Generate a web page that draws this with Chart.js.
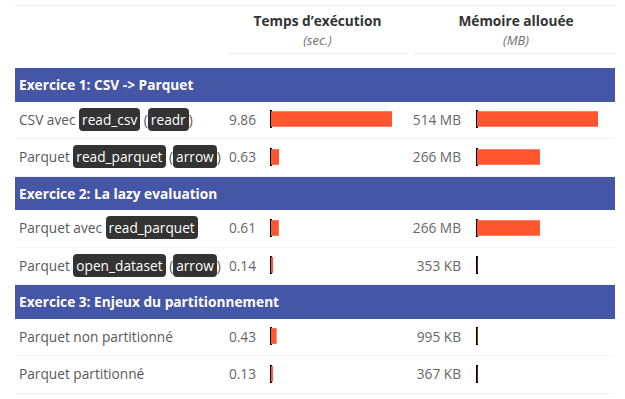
<!DOCTYPE html>
<html>
<head>
<meta charset="utf-8">
<script src="https://cdn.jsdelivr.net/npm/chart.js@4"></script>
<style>
  body { margin: 0; background: #fff; font-family: "Open Sans", sans-serif; }
  #wrap { position: relative; width: 625px; height: 399px; overflow: hidden; }
  .hline { position: absolute; height: 1px; background: #ececec; }
  .colhead { position: absolute; text-align: center; color: #333; font-weight: bold; font-size: 13.7px; }
  .colsub { position: absolute; text-align: center; color: #6f6f6f; font-style: italic; font-size: 13px; }
  .section { position: absolute; left: 15px; width: 600px; background: #4656a6; color: #fff;
             font-weight: bold; font-size: 13.7px; box-sizing: border-box; padding-left: 4px; display: flex; align-items: center; }
  .label { position: absolute; left: 19px; color: #595959; font-size: 13.7px; display: flex; align-items: center; white-space: pre; }
  .pill { background: #333; color: #fff; border-radius: 4px; padding: 2px 3px; }
  .val { position: absolute; color: #666; font-size: 13.7px; text-align: right; display: flex; align-items: center; justify-content: flex-end; }
</style>
</head>
<body>
<div id="wrap"></div>
<script>
// sections and rows
const sections = ['Exercice 1: CSV -> Parquet', 'Exercice 2: La lazy evaluation', 'Exercice 3: Enjeux du partitionnement'];
const rowSection = [0, 0, 1, 1, 2, 2];
const rowLabels = [
  'CSV avec `read_csv` (`readr`)',
  'Parquet `read_parquet` (`arrow`)',
  'Parquet avec `read_parquet`',
  'Parquet `open_dataset` (`arrow`)',
  'Parquet non partitionné',
  'Parquet partitionné'
];
const timeSec = [9.86, 0.63, 0.61, 0.14, 0.43, 0.13];
const memoryMB = [514, 266, 266, 0.353, 0.995, 0.367];

const BAR = '#ff5630';
const wrap = document.getElementById('wrap');

function el(cls, css, html) {
  const d = document.createElement('div');
  d.className = cls;
  Object.assign(d.style, css);
  if (html !== undefined) d.innerHTML = html;
  wrap.appendChild(d);
  return d;
}

function fmtMem(v) {
  return v >= 1 ? Math.round(v) + ' MB' : Math.round(v * 1000) + ' KB';
}

function pillify(s) {
  return s.replace(/`([^`]+)`/g, '<span class="pill">$1</span>');
}

// column headers
el('hline', {left: '15px', top: '5px', width: '600px'});
el('colhead', {left: '229px', width: '177px', top: '11px'}, 'Temps d\u2019exécution');
el('colsub', {left: '229px', width: '177px', top: '31px'}, '(sec.)');
el('colhead', {left: '414px', width: '204px', top: '11px'}, 'Mémoire allouée');
el('colsub', {left: '414px', width: '204px', top: '31px'}, '(MB)');
el('hline', {left: '229px', top: '53px', width: '177px'});
el('hline', {left: '414px', top: '53px', width: '201px'});

function miniBar(left, top, value, max) {
  const c = document.createElement('canvas');
  c.width = 122; c.height = 18;
  Object.assign(c.style, {position: 'absolute', left: left + 'px', top: top + 'px'});
  wrap.appendChild(c);
  new Chart(c.getContext('2d'), {
    type: 'bar',
    data: {labels: [''], datasets: [{data: [value], backgroundColor: BAR, barThickness: 15}]},
    options: {
      indexAxis: 'y', responsive: false, animation: false,
      layout: {padding: {left: 1, top: 0, bottom: 0, right: 0}},
      plugins: {legend: {display: false}, tooltip: {enabled: false}},
      scales: {
        x: {display: false, min: 0, max: max},
        y: {display: true, grid: {display: false, drawTicks: false}, ticks: {display: false},
            border: {color: '#000', width: 2}}
      }
    }
  });
}

const tMax = Math.max(...timeSec);
const mMax = Math.max(...memoryMB);
let y = 68;
let cur = -1;
rowLabels.forEach((lab, i) => {
  if (rowSection[i] !== cur) {
    cur = rowSection[i];
    el('section', {top: y + 'px', height: '33.5px'}, sections[cur]);
    y += 33.5;
  }
  const h = 37.5;
  const cy = y - 1;
  el('hline', {left: '15px', top: (y + h - 1) + 'px', width: '600px', background: '#f3f3f3'});
  el('label', {top: cy + 'px', height: h + 'px'}, pillify(lab));
  el('val', {left: '200px', width: '56px', top: cy + 'px', height: h + 'px'}, timeSec[i].toFixed(2));
  el('val', {left: '400px', width: '61px', top: cy + 'px', height: h + 'px'}, fmtMem(memoryMB[i]));
  miniBar(270, cy + h / 2 - 9, timeSec[i], tMax);
  miniBar(476, cy + h / 2 - 9, memoryMB[i], mMax);
  y += h;
});
</script>
</body>
</html>
